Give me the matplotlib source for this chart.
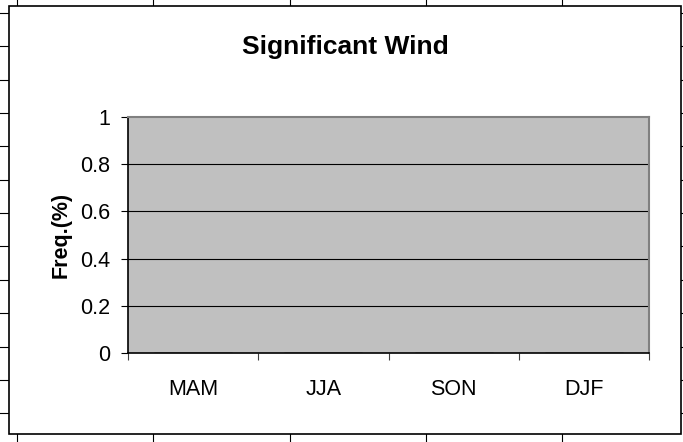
import numpy as np
import matplotlib
matplotlib.use('Agg')
import matplotlib.pyplot as plt
from matplotlib.patches import Rectangle
from matplotlib.lines import Line2D

# data
seasons = ['MAM', 'JJA', 'SON', 'DJF']
freq = [0, 0, 0, 0]
yticks = [0, 0.2, 0.4, 0.6, 0.8, 1.0]
ylabels = ['0', '0.2', '0.4', '0.6', '0.8', '1']

plt.rcParams['font.family'] = ['Liberation Sans', 'DejaVu Sans']

W, H = 683, 442
fig = plt.figure(figsize=(W / 100, H / 100), dpi=100)
fig.patch.set_facecolor('white')

# spreadsheet cells behind the chart
for x in np.arange(17, W, 136.3):
    fig.add_artist(Line2D([x / W, x / W], [0, 1], color='black', lw=0.8, zorder=-3))
for y in np.arange(13, H, 33.35):
    fig.add_artist(Line2D([0, 1], [1 - y / H, 1 - y / H], color='black', lw=0.8, zorder=-3))

# chart area
fig.add_artist(Rectangle((9 / W, 1 - 434 / H), 672 / W, 428 / H, transform=fig.transFigure,
                         facecolor='white', edgecolor='black', lw=1.2, zorder=-1))

ax = fig.add_axes([128 / W, 1 - 353 / H, 521 / W, 236 / H])
ax.set_facecolor('#c0c0c0')
x = np.arange(len(seasons))
ax.bar(x, freq, width=0.6, color='#9999ff', edgecolor='black')

ax.set_xlim(-0.5, len(seasons) - 0.5)
ax.set_ylim(0, 1)
ax.set_yticks(yticks)
ax.set_yticklabels(ylabels)
for t in yticks[1:-1]:
    ax.axhline(t, color='black', lw=0.8, zorder=0.5)

ax.set_xticks(np.arange(-0.5, len(seasons), 1.0))
ax.set_xticklabels([])
ax.set_xticks(x, minor=True)
ax.set_xticklabels(seasons, minor=True)
ax.tick_params(axis='x', which='major', direction='out', length=5, width=0.8, color='#404040')
ax.tick_params(axis='x', which='minor', length=0, pad=18.5, labelsize=15.5)
ax.tick_params(axis='y', direction='out', length=5, width=0.8, pad=8, labelsize=15.5)

for s in ['top', 'right']:
    ax.spines[s].set_color('#808080')
    ax.spines[s].set_linewidth(1.5)
for s in ['left', 'bottom']:
    ax.spines[s].set_color('black')
    ax.spines[s].set_linewidth(1.2)

fig.text(345 / W, 1 - 47 / H, 'Significant Wind', ha='center', va='center',
         fontsize=19, fontweight='bold')
fig.text(61 / W, 1 - 235 / H, 'Freq.(%)', ha='center', va='center', rotation=90,
         fontsize=15.5, fontweight='bold')

fig.savefig('out.png', dpi=100)
